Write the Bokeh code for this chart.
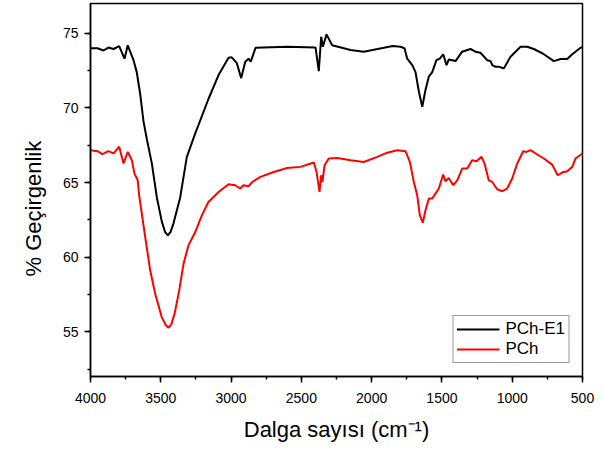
from bokeh.plotting import figure
from bokeh.models import Range1d, Legend, LegendItem, SingleIntervalTicker, Title, ColumnDataSource
from bokeh.embed import file_html
from bokeh.resources import INLINE

# PCh-E1 (black)
e1_wavenumber = [4000, 3950, 3908, 3872, 3836, 3796, 3758, 3735, 3694, 3671, 3646, 3623, 3599,
                 3564, 3528, 3493, 3470, 3450, 3430, 3410, 3362, 3315, 3255, 3232, 3161, 3089, 3018, 2995,
                 2959, 2928, 2899, 2876, 2860, 2826, 2600, 2399, 2376, 2359, 2347, 2321, 2281,
                 2150, 2056, 1913, 1850, 1795, 1766, 1747, 1711, 1688, 1664, 1640, 1617, 1593,
                 1569, 1539, 1515, 1491, 1467, 1451, 1403, 1356, 1297, 1261, 1226, 1178, 1154,
                 1142, 1119, 1095, 1060, 1012, 941, 893, 846, 775, 704, 656, 609, 573, 514, 500]
e1_transmittance = [74.0, 74.0, 73.85, 74.05, 73.95, 74.15, 73.3, 74.2, 73.2, 72.4, 70.9, 69.1, 67.9,
                    66.3, 64.0, 62.4, 61.7, 61.46, 61.7, 62.25, 64.0, 66.7, 68.3, 68.85, 70.6, 72.2, 73.36, 73.39,
                    73.0, 72.0, 73.1, 73.3, 73.1, 74.03, 74.1, 74.05, 72.47, 74.77, 74.1, 74.93, 74.2,
                    73.88, 73.77, 74.03, 74.15, 74.1, 74.0, 73.3, 72.87, 72.4, 71.1, 70.07, 71.2, 72.1,
                    72.4, 73.2, 73.3, 73.6, 72.87, 73.25, 73.14, 73.77, 73.95, 73.77, 73.7, 73.2, 73.14,
                    72.87, 72.76, 72.76, 72.65, 73.43, 74.1, 74.1, 73.95, 73.6, 73.14, 73.28, 73.28, 73.6, 74.03, 74.1]

# PCh (red)
pch_wavenumber = [4000, 3950, 3915, 3872, 3836, 3796, 3765, 3735, 3706, 3687, 3664, 3654, 3635, 3611,
                  3575, 3540, 3493, 3465, 3445, 3425, 3402, 3369, 3338, 3303, 3255, 3208, 3161, 3089, 3018, 2971,
                  2935, 2912, 2876, 2848, 2791, 2696, 2601, 2506, 2411, 2392, 2371, 2359, 2350, 2335,
                  2305, 2245, 2150, 2056, 1960, 1889, 1818, 1759, 1728, 1700, 1676, 1657, 1636, 1617,
                  1593, 1569, 1546, 1522, 1491, 1475, 1451, 1420, 1391, 1356, 1320, 1285, 1254, 1218,
                  1197, 1167, 1142, 1107, 1071, 1036, 1000, 964, 922, 898, 870, 822, 775, 716, 676,
                  645, 609, 573, 550, 500]
pch_transmittance = [67.17, 67.1, 66.9, 67.1, 66.95, 67.4, 66.28, 67.05, 66.5, 65.6, 65.15, 64.15, 62.92, 61.35,
                     59.1, 57.55, 55.98, 55.45, 55.27, 55.5, 56.2, 57.77, 59.56, 60.79, 61.68, 62.8, 63.7, 64.37, 64.89, 64.82,
                     64.6, 64.82, 64.75, 65.05, 65.38, 65.71, 65.98, 66.05, 66.34, 65.71, 64.37, 65.49, 65.04, 66.16,
                     66.61, 66.65, 66.5, 66.38, 66.72, 67.0, 67.17, 67.1, 66.38, 65.04, 64.15, 62.8, 62.31, 63.14,
                     63.93, 63.93, 64.26, 64.6, 65.54, 65.09, 65.31, 64.82, 65.15, 65.94, 65.94, 66.5, 66.43, 66.72,
                     66.28, 65.15, 65.04, 64.55, 64.42, 64.6, 65.27, 66.28, 67.1, 67.05, 67.17, 66.88, 66.61, 66.2, 65.49,
                     65.67, 65.76, 66.05, 66.61, 66.95]

series_names = ["PCh-E1", "PCh"]
x_label = "Dalga sayısı (cm⁻¹)"
y_label = "% Geçirgenlik"

FONT = "Liberation Sans"

p = figure(width=597, height=448, output_backend="svg", toolbar_location=None,
           x_range=Range1d(4000, 500), y_range=Range1d(52, 77),
           min_border_left=90, min_border_right=15, min_border_top=3, min_border_bottom=72)
p.background_fill_color = "white"
p.border_fill_color = "white"
p.outline_line_color = "black"
p.outline_line_width = 1.5
p.xgrid.visible = False
p.ygrid.visible = False

p.xaxis.ticker = SingleIntervalTicker(interval=500, num_minor_ticks=2)
p.yaxis.ticker = SingleIntervalTicker(interval=5, num_minor_ticks=2)
for ax in (p.xaxis[0], p.yaxis[0]):
    ax.axis_line_color = "black"
    ax.axis_line_width = 1.5
    ax.major_tick_line_color = "black"
    ax.minor_tick_line_color = "black"
    ax.major_tick_line_width = 1.5
    ax.minor_tick_line_width = 1.5
    ax.major_tick_in = 0
    ax.major_tick_out = 6
    ax.minor_tick_in = 0
    ax.minor_tick_out = 3
    ax.major_label_text_font = FONT
    ax.major_label_text_font_size = "14px"
    ax.major_label_text_color = "black"
    ax.axis_label_text_font = FONT
    ax.axis_label_text_font_style = "normal"
    ax.axis_label_text_font_size = "22px"
    ax.axis_label_text_color = "black"

p.xaxis.major_label_standoff = 10
p.yaxis.major_label_standoff = 6
p.xaxis.axis_label = x_label
p.xaxis.axis_label_standoff = 11

src1 = ColumnDataSource(dict(x=e1_wavenumber, y=e1_transmittance))
src2 = ColumnDataSource(dict(x=pch_wavenumber, y=pch_transmittance))
r1 = p.line("x", "y", source=src1, line_color="black", line_width=2)
r2 = p.line("x", "y", source=src2, line_color="#ff0000", line_width=2)

# y-axis title as a left-side title, placed slightly below the frame centre like the original
ytitle = Title(text=y_label, align="left", offset=100, standoff=28, text_font=FONT,
               text_font_size="22px", text_font_style="normal", text_color="black")
p.add_layout(ytitle, "left")

legend = Legend(items=[LegendItem(label=series_names[0], renderers=[r1]),
                       LegendItem(label=series_names[1], renderers=[r2])],
                location="bottom_right", margin=13, padding=3, spacing=0,
                glyph_width=43, glyph_height=16, label_height=16, label_standoff=6,
                label_text_font=FONT, label_text_font_size="17px", label_text_color="black",
                border_line_color="#333333", border_line_width=1, background_fill_color="white",
                background_fill_alpha=1.0)
p.add_layout(legend)

open("out.html", "w").write(file_html(p, INLINE))
